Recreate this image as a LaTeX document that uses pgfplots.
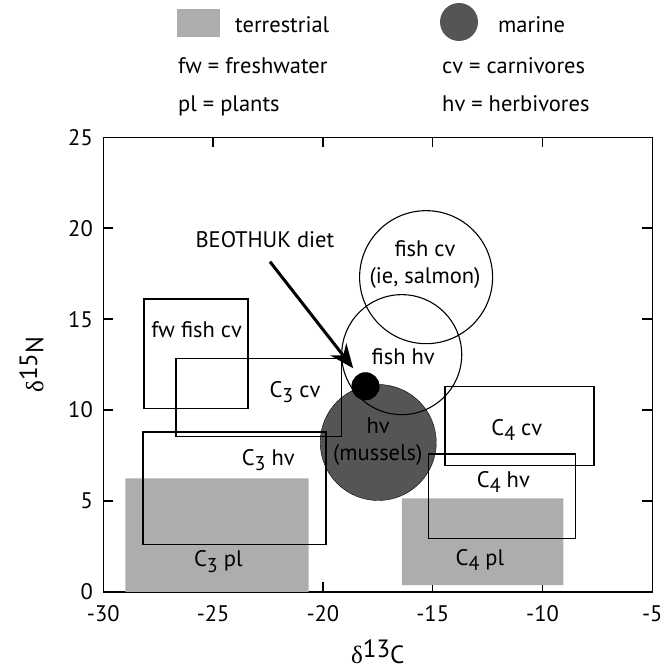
\documentclass[border=0pt]{standalone}
\usepackage{pgfplots}
\pgfplotsset{compat=1.18}
\usepackage{fontspec}
\setmainfont{PT Sans}
\newfontfamily\grk{Liberation Serif}
\usetikzlibrary{arrows.meta}
\definecolor{terr}{RGB}{173,173,173}
\definecolor{marine}{RGB}{85,85,85}
\newcommand\fnt{\fontsize{22.5}{26}\selectfont}
\newcommand\sub[1]{\raisebox{-0.45ex}{\fontsize{20}{20}\selectfont #1}}
\begin{document}
\begin{tikzpicture}
\useasboundingbox (0,0) rectangle (667pt,670pt);
% legend
\fill[terr] (176.7pt,633.3pt) rectangle (220pt,660.7pt);
\fill[marine] (459pt,648pt) circle (19pt);
\node[anchor=base west, inner sep=0, font=\fnt] at (235pt,637.3pt) {terrestrial};
\node[anchor=base west, inner sep=0, font=\fnt] at (498pt,637.3pt) {marine};
\node[anchor=base west, inner sep=0, font=\fnt] at (178pt,596pt) {fw = freshwater};
\node[anchor=base west, inner sep=0, font=\fnt] at (442pt,596pt) {cv = carnivores};
\node[anchor=base west, inner sep=0, font=\fnt] at (178pt,558.3pt) {pl = plants};
\node[anchor=base west, inner sep=0, font=\fnt] at (442pt,558.3pt) {hv = herbivores};
\begin{axis}[
  at={(103.3pt,78pt)}, anchor=south west,
  width=549pt, height=454.7pt, scale only axis,
  xmin=-30, xmax=-5, ymin=0, ymax=25,
  xtick={-30,-25,-20,-15,-10,-5},
  xticklabels={-30,-25,-20,-15,-10,-5},
  ytick={0,5,10,15,20,25},
  yticklabels={0,5,10,15,20,25},
  tick align=inside, major tick length=10pt,
  axis line style={line width=1.5pt},
  every tick/.style={black, line width=1.5pt},
  tick label style={font=\fnt},
  xticklabel style={yshift=-10pt},
  yticklabel style={xshift=-7pt},
  xlabel={{\grk δ}\raisebox{0.5ex}{13}C},
  ylabel={{\grk δ}\raisebox{0.5ex}{15}N},
  label style={font=\fontsize{25}{29}\selectfont},
  xlabel style={at={(axis description cs:0.5,-0.1583)}, anchor=base},
  ylabel style={at={(axis description cs:-0.1093,0.5)}, anchor=base},
  clip=false, clip mode=individual,
]
% terrestrial fills
\addplot[fill=terr, draw=none] coordinates {(-29,0) (-20.65,0) (-20.65,6.25) (-29,6.25) (-29,0)};
\addplot[fill=terr, draw=none] coordinates {(-16.4,0.38) (-9.05,0.38) (-9.05,5.15) (-16.4,5.15) (-16.4,0.38)};
% marine
\addplot[only marks, mark=*, mark size=58pt, mark options={fill=marine, draw=none}] coordinates {(-17.48,8.22)};
% rectangles
\addplot[black, line width=1.5pt, line cap=rect, no markers] coordinates {(-28.15,10.1) (-23.4,10.1) (-23.4,16.1) (-28.15,16.1) (-28.15,10.1)};
\addplot[black, line width=1.5pt, line cap=rect, no markers] coordinates {(-26.7,8.55) (-19.15,8.55) (-19.15,12.85) (-26.7,12.85) (-26.7,8.55)};
\addplot[black, line width=1.5pt, line cap=rect, no markers] coordinates {(-28.2,2.6) (-19.85,2.6) (-19.85,8.8) (-28.2,8.8) (-28.2,2.6)};
\addplot[black, line width=1.5pt, line cap=rect, no markers] coordinates {(-14.45,6.95) (-7.65,6.95) (-7.65,11.3) (-14.45,11.3) (-14.45,6.95)};
\addplot[black, line width=1.5pt, line cap=rect, no markers] coordinates {(-15.2,2.95) (-8.5,2.95) (-8.5,7.6) (-15.2,7.6) (-15.2,2.95)};
% open circles
\addplot[only marks, mark=o, mark size=66.5pt, mark options={line width=1.1pt, draw=black}] coordinates {(-15.3,17.31)};
\addplot[only marks, mark=o, mark size=60pt, mark options={line width=1.1pt, draw=black}] coordinates {(-16.41,13.05)};
% Beothuk diet
\addplot[only marks, mark=*, mark size=13.8pt, mark options={fill=black, draw=none}] coordinates {(-18.06,11.31)};
\addplot[black, line width=3pt, no markers, -{Stealth[length=24pt,width=20pt]}] coordinates {(-22.41,18.16) (-18.62,12.3)};
% labels
\node[font=\fnt] at (axis cs:-22.64,19.4) {BEOTHUK diet};
\node[font=\fnt] at (axis cs:-25.75,14.4) {fw fish cv};
\node[font=\fnt] at (axis cs:-21.27,11.0) {C\sub{3} cv};
\node[font=\fnt] at (axis cs:-22.49,7.26) {C\sub{3} hv};
\node[font=\fnt] at (axis cs:-24.76,1.67) {C\sub{3} pl};
\node[font=\fnt] at (axis cs:-11.17,8.9) {C\sub{4} cv};
\node[font=\fnt] at (axis cs:-11.78,6.07) {C\sub{4} hv};
\node[font=\fnt] at (axis cs:-12.85,1.76) {C\sub{4} pl};
\node[font=\fnt] at (axis cs:-15.35,18.9) {fish cv};
\node[font=\fnt] at (axis cs:-15.35,17.25) {(ie, salmon)};
\node[font=\fnt] at (axis cs:-16.34,12.95) {fish hv};
\node[font=\fnt] at (axis cs:-17.48,9.15) {hv};
\node[font=\fnt] at (axis cs:-17.5,7.53) {(mussels)};
\end{axis}
\end{tikzpicture}
\end{document}
